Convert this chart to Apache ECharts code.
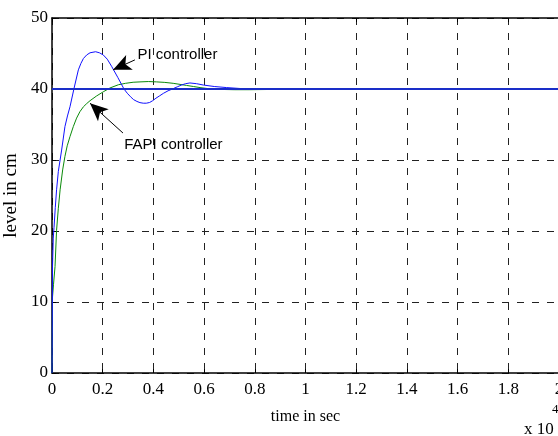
<!DOCTYPE html>
<html>
<head>
<meta charset="utf-8">
<script src="https://cdn.jsdelivr.net/npm/echarts@6/dist/echarts.min.js"></script>
<style>html,body{margin:0;padding:0;background:#fff;}#c{width:558px;height:436px;}</style>
</head>
<body>
<div id="c"></div>
<script>
// time (x 10^4 s) and level (cm)
var piTime  = [0, 0.002, 0.005, 0.008, 0.013, 0.018, 0.025, 0.038, 0.051, 0.061, 0.071, 0.087, 0.104, 0.114, 0.124, 0.137, 0.15, 0.172, 0.187, 0.202, 0.218, 0.235, 0.26, 0.284, 0.297, 0.31, 0.322, 0.335, 0.347, 0.36, 0.372, 0.385, 0.397, 0.41, 0.425, 0.44, 0.458, 0.478, 0.494, 0.51, 0.527, 0.544, 0.57, 0.597, 0.64, 0.689, 0.75, 0.85, 1.0, 1.5, 2.0];
var piLevel = [0, 15, 19, 20.5, 23.3, 25.8, 28.4, 31.4, 34.7, 36.2, 37.5, 40.1, 42.7, 43.6, 44.3, 44.8, 45.1, 45.25, 45.1, 44.8, 44.2, 43.2, 41.6, 40.0, 39.4, 38.9, 38.5, 38.25, 38.08, 38.0, 38.0, 38.1, 38.35, 38.7, 39.05, 39.4, 39.75, 40.05, 40.3, 40.55, 40.75, 40.85, 40.75, 40.56, 40.35, 40.2, 40.05, 40, 40, 40, 40];

var fapiTime  = [0, 0.002, 0.006, 0.012, 0.018, 0.025, 0.032, 0.042, 0.051, 0.06, 0.071, 0.084, 0.097, 0.11, 0.124, 0.137, 0.15, 0.175, 0.202, 0.229, 0.262, 0.29, 0.32, 0.347, 0.38, 0.413, 0.445, 0.478, 0.505, 0.531, 0.558, 0.584, 0.617, 0.65, 0.72, 0.78, 0.9, 1.0, 1.5, 2.0];
var fapiLevel = [0, 10.7, 12.5, 15, 20.1, 23.2, 25.8, 28.6, 30.5, 32.0, 33.3, 34.7, 35.9, 36.8, 37.5, 37.95, 38.35, 39.0, 39.6, 40.15, 40.6, 40.8, 40.95, 41.0, 41.05, 41.0, 40.93, 40.8, 40.65, 40.5, 40.35, 40.2, 40.05, 39.95, 39.9, 39.9, 39.95, 40, 40, 40];

var setTime  = [0, 2];
var setLevel = [40, 40];

var xTicks = {min: 0, max: 2, interval: 0.2};
var yTicks = {min: 0, max: 50, interval: 10};

// annotations (data coordinates)
var piLabel   = {text: 'PI controller',   at: [0.337, 44.8], tail: [0.327, 44.1], tip: [0.241, 42.7]};
var fapiLabel = {text: 'FAPI controller', at: [0.285, 32.1], tail: [0.28, 33.8], tip: [0.15, 38.0]};

function zip(a, b) { return a.map(function (v, i) { return [v, b[i]]; }); }

var chart = echarts.init(document.getElementById('c'));
var dashStyle = {show: true, lineStyle: {color: '#222', width: 1, type: [7, 8]}};
var serif = 'Liberation Serif';

chart.setOption({
  animation: false,
  backgroundColor: '#fff',
  grid: {left: 52, top: 18, width: 507, bottom: 63, outerBoundsMode: 'none', containLabel: false},
  xAxis: [{
    type: 'value', min: xTicks.min, max: xTicks.max, interval: xTicks.interval,
    name: 'time in sec', nameLocation: 'middle', nameGap: 36,
    nameTextStyle: {fontFamily: serif, fontSize: 16, color: '#000'},
    axisLine: {show: true, lineStyle: {color: '#000', width: 1.5}},
    axisTick: {show: true, inside: true, length: 4, lineStyle: {color: '#000'}},
    axisLabel: {fontFamily: serif, fontSize: 17, color: '#000', margin: 8, showMaxLabel: true},
    splitLine: dashStyle
  }, {
    type: 'value', position: 'top', min: xTicks.min, max: xTicks.max, interval: xTicks.interval,
    axisLine: {show: true, lineStyle: {color: '#000', width: 1.5}},
    axisTick: {show: true, inside: true, length: 4, lineStyle: {color: '#000'}},
    axisLabel: {show: false}, splitLine: {show: false}
  }],
  yAxis: {
    type: 'value', min: yTicks.min, max: yTicks.max, interval: yTicks.interval,
    name: 'level in cm', nameLocation: 'middle', nameGap: 28, nameRotate: 90,
    nameTextStyle: {fontFamily: serif, fontSize: 19, color: '#000'},
    axisLine: {show: true, lineStyle: {color: '#000', width: 1.5}},
    axisTick: {show: true, inside: true, length: 4, lineStyle: {color: '#000'}},
    axisLabel: {fontFamily: serif, fontSize: 17, color: '#000', margin: 4},
    splitLine: dashStyle
  },
  graphic: [
    {type: 'text', left: 524, top: 421, style: {text: 'x 10', font: '17px "Liberation Serif"', fill: '#000'}},
    {type: 'text', left: 552, top: 403, style: {text: '4', font: '13px "Liberation Serif"', fill: '#000'}}
  ],
  series: [
    {
      name: 'FAPI controller', type: 'line', data: zip(fapiTime, fapiLevel),
      showSymbol: false, symbol: 'none',
      lineStyle: {color: '#0a8a0a', width: 1}
    },
    {
      name: 'PI controller', type: 'line', data: zip(piTime, piLevel),
      showSymbol: false, symbol: 'none',
      lineStyle: {color: '#1010ff', width: 1}
    },
    {
      name: 'setpoint', type: 'line', data: zip(setTime, setLevel),
      showSymbol: false, symbol: 'none',
      lineStyle: {color: '#1a2ec8', width: 2},
      markLine: {
        silent: true, symbol: ['none', 'arrow'], symbolSize: [12, 18],
        lineStyle: {color: '#000', width: 1, type: 'solid'},
        label: {show: false},
        data: [
          [{coord: piLabel.tail}, {coord: piLabel.tip}],
          [{coord: fapiLabel.tail}, {coord: fapiLabel.tip}]
        ]
      },
      markPoint: {
        silent: true, symbol: 'circle', symbolSize: 0,
        label: {show: true, position: 'right', distance: 0, color: '#000',
                fontFamily: 'Liberation Sans', fontSize: 15, formatter: '{b}'},
        data: [
          {name: piLabel.text, coord: piLabel.at},
          {name: fapiLabel.text, coord: fapiLabel.at}
        ]
      }
    }
  ]
});
</script>
</body>
</html>
